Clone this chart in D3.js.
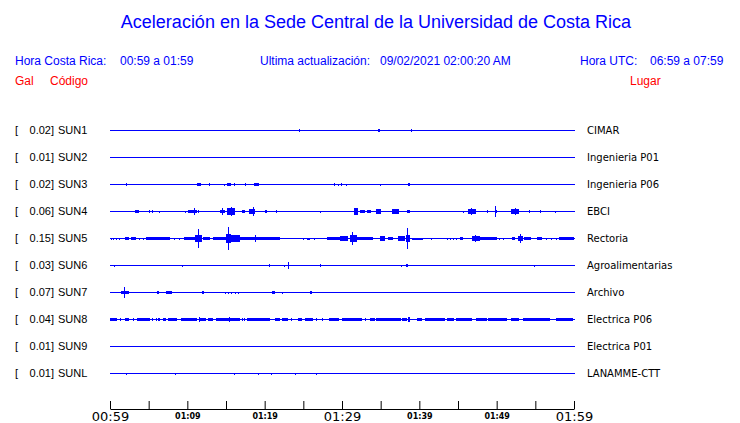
<!DOCTYPE html>
<html>
<head>
<meta charset="utf-8">
<script src="https://cdn.jsdelivr.net/npm/d3@7"></script>
<style>
  html, body { margin: 0; padding: 0; background: #fff; }
  svg { display: block; }
</style>
</head>
<body>
<svg id="chart" width="740" height="423"></svg>
<script>
// ---------------- DATA ----------------
const stations = ["SUN1","SUN2","SUN3","SUN4","SUN5","SUN6","SUN7","SUN8","SUN9","SUNL"];
const maxima   = ["0.02","0.01","0.02","0.06","0.15","0.03","0.07","0.04","0.01","0.01"];
const places   = ["CIMAR","Ingenieria P01","Ingenieria P06","EBCI","Rectoria","Agroalimentarias","Archivo","Electrica P06","Electrica P01","LANAMME-CTT"];

// minutes after 00:59 for the axis ticks, and their labels
const tickMinutes = [0,5,10,15,20,25,30,35,40,45,50,55,60];
const tickLabels  = ["00:59","","01:09","","01:19","","01:29","","01:39","","01:49","","01:59"];
const majorLabels = ["00:59","01:29","01:59"];

// bursts per station: [start minute, end minute, half amplitude in Gal]
const eventsSUN1 = [[24.5,24.5,0.02],[34.7,34.9,0.015],[39.0,39.0,0.015]];
const eventsSUN2 = [];
const eventsSUN3 = [[2.1,2.1,0.02],[11.25,11.75,0.02],[12.85,12.85,0.02],[14.75,14.75,0.01],[15.1,15.65,0.02],
  [16.15,16.15,0.02],[17.4,17.5,0.02],[18.6,19.3,0.02],[29.05,29.05,0.02],[29.55,29.55,0.01],[29.9,30.05,0.02],
  [30.6,30.6,0.01],[35.0,35.0,0.01],[38.5,38.8,0.02]];
const eventsSUN4 = [[3.2,3.75,0.02],[5.1,5.1,0.02],[5.5,5.5,0.02],[6.4,6.4,0.01],[9.8,9.8,0.01],
  [10.1,11.2,0.026],[10.9,10.9,0.04],[11.5,11.5,0.02],[14.2,14.9,0.026],[14.5,14.5,0.04],
  [15.1,16.2,0.04],[15.7,15.7,0.055],[17.1,17.5,0.02],[18.0,18.8,0.033],[18.5,18.5,0.065],
  [20.1,20.1,0.02],[20.3,20.3,0.02],[21.5,21.5,0.015],[27.2,27.2,0.01],[31.5,32.1,0.04],[31.7,31.7,0.05],
  [32.3,33.0,0.026],[33.2,33.7,0.02],[34.4,35.0,0.033],[36.5,37.4,0.039],[38.4,38.8,0.02],[45.7,45.7,0.01],
  [46.3,47.3,0.039],[46.8,46.8,0.05],[48.8,48.8,0.02],[49.8,50.0,0.026],[49.9,49.9,0.07],
  [51.9,52.9,0.039],[52.4,52.4,0.045],[54.2,54.2,0.015],[55.7,55.7,0.02],[57.6,57.6,0.01]];
const eventsSUN5 = [[0.2,0.2,0.013],[0.5,0.5,0.013],[0.9,0.9,0.013],[1.2,1.2,0.013],[1.9,2.5,0.02],[2.7,3.4,0.02],
  [3.8,3.8,0.013],[4.3,4.3,0.013],[4.7,7.8,0.02],[8.4,8.4,0.013],[9.0,9.0,0.013],[9.6,11.0,0.02],
  [11.0,11.9,0.04],[11.5,11.5,0.124],[12.0,12.9,0.02],[13.3,15.0,0.02],[15.0,15.7,0.06],[15.3,15.3,0.15],
  [15.7,16.8,0.046],[16.8,19.0,0.026],[18.8,18.8,0.052],[19.0,22.0,0.02],[25.0,25.0,0.013],[25.5,25.9,0.013],
  [26.4,26.4,0.013],[28.0,30.8,0.02],[29.8,30.8,0.039],[31.0,31.9,0.04],[31.4,31.4,0.087],[31.9,34.0,0.026],
  [34.9,35.5,0.033],[36.0,36.6,0.02],[37.2,38.2,0.03],[38.3,38.8,0.05],[38.5,38.5,0.143],[39.0,40.5,0.013],
  [41.6,41.6,0.013],[43.6,43.6,0.01],[44.0,44.0,0.01],[44.4,44.4,0.01],[44.8,44.8,0.01],[45.3,45.7,0.02],
  [46.8,47.8,0.03],[47.3,47.3,0.046],[47.8,50.0,0.02],[50.4,50.4,0.013],[50.85,50.85,0.013],[52.0,52.4,0.02],
  [52.8,53.4,0.03],[53.1,53.1,0.065],[53.5,54.5,0.02],[55.2,55.8,0.02],[56.5,56.5,0.013],[57.1,57.1,0.013],
  [57.8,57.8,0.013],[58.0,60.0,0.02]];
const eventsSUN6 = [[0.6,0.6,0.013],[9.35,9.35,0.013],[20.5,20.7,0.015],[22.5,22.5,0.013],[23.1,23.1,0.048],
  [27.2,27.2,0.026],[37.7,37.7,0.013],[38.3,38.5,0.02],[54.9,54.9,0.013]];
const eventsSUN7 = [[1.4,2.5,0.026],[1.85,1.85,0.078],[6.1,6.4,0.026],[7.3,8.0,0.018],[11.9,12.1,0.018],
  [14.9,14.9,0.008],[15.3,15.3,0.008],[15.7,15.7,0.01],[16.2,16.2,0.01],[16.6,16.6,0.01],
  [21.0,21.3,0.026],[22.3,22.3,0.008],[25.8,26.1,0.02]];
const eventsSUN8 = [[0,0.85,0.022],[1.4,1.4,0.02],[2.0,2.5,0.022],[3.0,3.0,0.02],[3.45,5.2,0.022],[5.4,5.6,0.02],
  [5.95,5.95,0.02],[6.25,6.25,0.02],[6.45,6.45,0.02],[6.9,7.3,0.022],[7.55,8.7,0.022],[9.2,11.2,0.022],
  [11.55,11.55,0.038],[11.65,12.4,0.022],[12.7,13.35,0.022],[13.7,16.8,0.022],[15.4,15.4,0.035],
  [17.1,17.1,0.02],[17.45,17.45,0.02],[17.7,20.7,0.022],[21.3,22.0,0.022],[22.3,23.05,0.022],[23.5,23.5,0.02],
  [24.35,24.8,0.022],[25.2,26.3,0.022],[26.7,26.7,0.02],[27.4,27.6,0.022],[28.35,29.65,0.022],[29.95,32.55,0.022],
  [33.0,33.0,0.02],[33.6,34.25,0.022],[34.4,37.6,0.022],[37.7,38.35,0.022],[38.55,38.85,0.028],[38.7,38.7,0.038],
  [39.65,40.4,0.022],[40.75,43.3,0.022],[43.55,44.5,0.022],[44.75,46.75,0.022],[47.3,48.7,0.022],
  [48.9,51.3,0.022],[51.8,52.9,0.022],[53.35,56.9,0.022],[57.65,59.9,0.022]];
const eventsSUN9 = [];
const eventsSUNL = [[2.1,2.1,0.013],[8.45,8.45,0.013],[16.05,16.05,0.013],[19.2,19.3,0.008],[20.85,20.85,0.013],
  [23.95,23.95,0.013],[26.7,26.7,0.013]];

const events = [eventsSUN1,eventsSUN2,eventsSUN3,eventsSUN4,eventsSUN5,eventsSUN6,eventsSUN7,eventsSUN8,eventsSUN9,eventsSUNL];

// ---------------- DRAW ----------------
const svg = d3.select("#chart");
const BLUE = "#0000ff", RED = "#ff0000";
const sans = "'Liberation Sans', Arial, sans-serif";
const dejavu = "'DejaVu Sans', sans-serif";

const x = d3.scaleLinear().domain([0, 60]).range([110, 574]);
const y = d3.scalePoint().domain(stations).range([130, 373]);
const amp = d3.scaleLinear().domain([0, 0.15]).range([0, 11.5]);

// title & header
svg.append("text").attr("x", 376).attr("y", 28).attr("text-anchor", "middle")
  .attr("font-family", sans).attr("font-size", 18).attr("fill", BLUE)
  .text("Aceleración en la Sede Central de la Universidad de Costa Rica");

const header = [
  {t: "Hora Costa Rica:", x: 15, c: BLUE}, {t: "00:59 a 01:59", x: 120, c: BLUE},
  {t: "Ultima actualización:", x: 260, c: BLUE}, {t: "09/02/2021 02:00:20 AM", x: 380, c: BLUE},
  {t: "Hora UTC:", x: 580, c: BLUE}, {t: "06:59 a 07:59", x: 650, c: BLUE}
];
svg.selectAll("text.hdr").data(header).enter().append("text").attr("class", "hdr")
  .attr("x", d => d.x).attr("y", 65).attr("font-family", sans).attr("font-size", 12)
  .attr("fill", d => d.c).text(d => d.t);

const sub = [{t: "Gal", x: 15}, {t: "Código", x: 50}, {t: "Lugar", x: 630}];
svg.selectAll("text.sub").data(sub).enter().append("text").attr("class", "sub")
  .attr("x", d => d.x).attr("y", 85).attr("font-family", sans).attr("font-size", 12)
  .attr("fill", RED).text(d => d.t);

// rows
const rows = svg.selectAll("g.row").data(stations).enter().append("g").attr("class", "row")
  .attr("transform", d => `translate(0,${y(d)})`);

rows.append("text").attr("x", 15).attr("y", 4).attr("font-family", sans).attr("font-size", 11)
  .attr("fill", "#000").text("[");
rows.append("text").attr("x", 54).attr("y", 4).attr("text-anchor", "end").attr("font-family", sans)
  .attr("font-size", 11).attr("fill", "#000").text((d, i) => maxima[i] + "]");
rows.append("text").attr("x", 58).attr("y", 4).attr("font-family", sans).attr("font-size", 11)
  .attr("fill", "#000").text(d => d);
rows.append("text").attr("x", 587).attr("y", 4).attr("font-family", dejavu).attr("font-size", 10)
  .attr("fill", "#000").text((d, i) => places[i]);

rows.append("rect").attr("x", x(0)).attr("y", 0).attr("width", x(60) - x(0) + 1).attr("height", 1)
  .attr("fill", BLUE).attr("shape-rendering", "crispEdges");

rows.each(function(d, i) {
  d3.select(this).selectAll("rect.ev").data(events[i]).enter().append("rect").attr("class", "ev")
    .attr("x", e => x(e[0]) - (e[1] === e[0] ? 0.5 : 0))
    .attr("width", e => Math.max(1, x(e[1]) - x(e[0])))
    .attr("y", e => 0.5 - Math.max(1, amp(e[2])))
    .attr("height", e => 2 * Math.max(1, amp(e[2])))
    .attr("fill", BLUE).attr("shape-rendering", "crispEdges");
});

// axis
const axis = d3.axisBottom(x).tickValues(tickMinutes).tickSizeInner(-8).tickSizeOuter(0)
  .tickPadding(0).tickFormat((d, i) => tickLabels[i]);
const gAxis = svg.append("g").attr("transform", "translate(0,409)").call(axis);
gAxis.select(".domain").attr("stroke", "#000");
gAxis.selectAll(".tick line").attr("stroke", "#000");
gAxis.selectAll(".tick text")
  .attr("fill", "#000")
  .attr("dy", null)
  .attr("font-family", dejavu)
  .each(function(d, i) {
    const major = majorLabels.includes(tickLabels[i]);
    d3.select(this)
      .attr("y", major ? 12 : 9.5)
      .attr("font-size", major ? 13 : 8)
      .attr("font-weight", major ? "normal" : "bold");
  });
</script>
</body>
</html>
